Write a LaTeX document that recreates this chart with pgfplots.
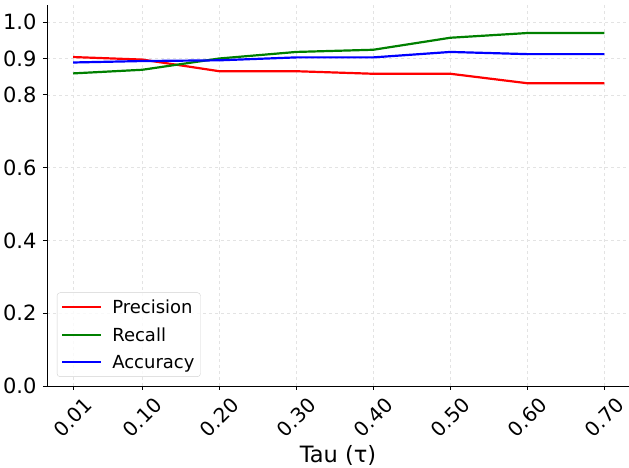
\documentclass[border=0pt]{standalone}
\usepackage{pgfplots}
\pgfplotsset{compat=1.18}
\usepackage{fontspec}
\setmainfont{DejaVu Sans}
\definecolor{mplred}{RGB}{255,0,0}
\definecolor{mplgreen}{RGB}{0,128,0}
\definecolor{mplblue}{RGB}{0,0,255}
\begin{document}
\begin{tikzpicture}
\begin{axis}[
  scale only axis, width=582pt, height=381pt,
  xmin=-0.0238, xmax=0.732, ymin=0, ymax=1.047,
  axis lines=left, axis line style={-, line width=0.8pt, black},
  xtick={0.01,0.1,0.2,0.3,0.4,0.5,0.6,0.7},
  xticklabels={0.01,0.10,0.20,0.30,0.40,0.50,0.60,0.70},
  ytick={0,0.2,0.4,0.6,0.8,0.9,1.0},
  yticklabels={0.0,0.2,0.4,0.6,0.8,0.9,1.0},
  tick align=outside, major tick length=4pt,
  tick style={black, line width=0.8pt},
  grid=major, grid style={dashed, gray!22, line width=0.6pt},
  font=\fontsize{17.5}{21}\selectfont,
  tick label style={font=\fontsize{21}{25}\selectfont},
  xticklabel style={font=\fontsize{20}{24}\selectfont, yshift=-27.5pt, rotate=45, anchor=center, inner sep=0pt},
  yticklabel style={anchor=east, xshift=-3pt},
  xlabel={Tau (τ)},
  xlabel style={font=\fontsize{22.5}{27}\selectfont, at={(axis description cs:0.5,0)}, anchor=base, yshift=-76pt},
  legend style={at={(0.017,0.024)}, anchor=south west, draw=gray!35, rounded corners=3pt,
    fill=white, fill opacity=0.8, text opacity=1, font=\fontsize{18}{21}\selectfont,
    row sep=8.5pt, inner xsep=4pt, inner ysep=5pt,
    /tikz/every odd column/.append style={column sep=8pt}},
  legend cell align=left,
  legend image code/.code={\draw[#1, line width=2.2pt] (0pt,0pt) -- (39pt,0pt);},
]
\addplot[mplred, line width=2.2pt] coordinates {
  (0.01,0.904) (0.1,0.897) (0.2,0.865) (0.3,0.865) (0.4,0.858) (0.5,0.858) (0.6,0.832) (0.7,0.832)};
\addlegendentry{Precision}
\addplot[mplgreen, line width=2.2pt] coordinates {
  (0.01,0.859) (0.1,0.869) (0.2,0.900) (0.3,0.918) (0.4,0.924) (0.5,0.957) (0.6,0.970) (0.7,0.970)};
\addlegendentry{Recall}
\addplot[mplblue, line width=2.2pt] coordinates {
  (0.01,0.889) (0.1,0.893) (0.2,0.895) (0.3,0.903) (0.4,0.903) (0.5,0.918) (0.6,0.912) (0.7,0.912)};
\addlegendentry{Accuracy}
\end{axis}
\pgfresetboundingbox
\path[use as bounding box] ([xshift=-47pt,yshift=-82pt]current axis.south west) rectangle ++(629pt,468pt);
\end{tikzpicture}
\end{document}
